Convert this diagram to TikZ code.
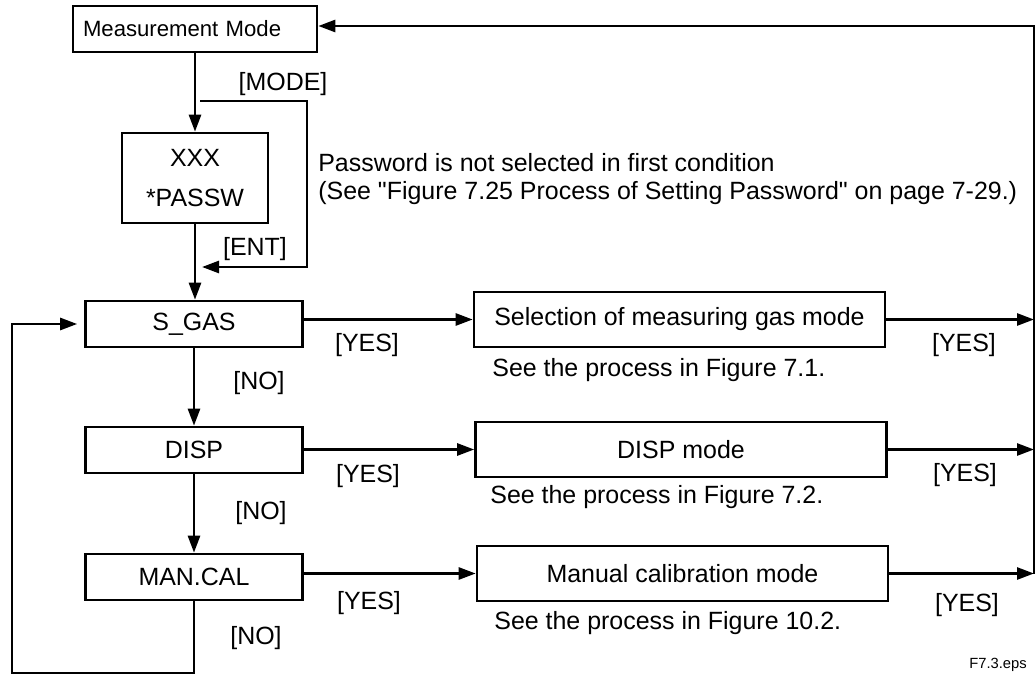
\documentclass[tikz,border=0pt]{standalone}
\usepackage{fontspec}
\setmainfont{Liberation Sans}
\newfontfamily\plainsans{Liberation Sans}
\usepackage{tikz}
\usetikzlibrary{arrows.meta,positioning}

\begin{document}
\begin{tikzpicture}[font=\fontsize{14.2}{15.9}\selectfont,b/.style={draw,line width=1.5pt,minimum width=4.34cm,minimum height=0.92cm,inner sep=0pt},w/.style={draw,line width=1.5pt,minimum width=8.22cm,minimum height=1.10cm,inner sep=0pt},a/.style={-{Triangle[length=0.34cm,width=0.24cm]},line width=1.5pt},lbl/.style={inner sep=0pt}]
\useasboundingbox (0,0) rectangle (20.72,-13.54);
\node[draw,line width=1.5pt,minimum height=0.92cm,text width=4.48cm,inner xsep=0.2cm,align=left,font=\fontsize{12.6}{14}\selectfont] (mm) at (3.90,-0.58) {Measurement Mode};
\node[draw,line width=1.5pt,minimum width=2.92cm,minimum height=1.80cm,align=center] (pw) at (3.90,-3.56) {XXX\\[7pt]*PASSW};
\node[b] (sg) at (3.88,-6.48) {S\_GAS};
\node[b] (dp) at (3.88,-9.00) {DISP};
\node[b] (mc) at (3.88,-11.54) {MAN.CAL};
\node[w] (sel) at (13.59,-6.39) {Selection of measuring gas mode};
\node[w] (dm) at (13.62,-8.99) {DISP mode};
\node[w] (man) at (13.65,-11.47) {Manual calibration mode};
\node[lbl] (lmode) at (5.66,-1.68) {[MODE]};
\node[lbl] (lent) at (5.10,-4.98) {[ENT]};
\node[lbl,anchor=west,align=left,font=\plainsans\fontsize{14.2}{15.9}\selectfont] (note) at (6.36,-3.58) {Password is not selected in first condition\\(See "Figure 7.25 Process of Setting Password" on page 7-29.)};
\node[lbl] (y1) at (7.34,-6.90) {[YES]};
\node[lbl] (y2) at (7.36,-9.52) {[YES]};
\node[lbl] (y3) at (7.38,-12.06) {[YES]};
\node[lbl] (y4) at (19.28,-6.90) {[YES]};
\node[lbl] (y5) at (19.30,-9.50) {[YES]};
\node[lbl] (y6) at (19.34,-12.10) {[YES]};
\node[lbl] (n1) at (5.18,-7.66) {[NO]};
\node[lbl] (n2) at (5.22,-10.26) {[NO]};
\node[lbl] (n3) at (5.12,-12.76) {[NO]};
\node[lbl,anchor=west] (s1) at (9.84,-7.40) {See the process in Figure 7.1.};
\node[lbl,anchor=west] (s2) at (9.80,-9.94) {See the process in Figure 7.2.};
\node[lbl,anchor=west] (s3) at (9.88,-12.46) {See the process in Figure 10.2.};
\node[lbl,font=\fontsize{8.4}{10}\selectfont] (eps) at (19.96,-13.30) {F7.3.eps};
\coordinate (mb) at (4.00,-2.02);
\coordinate (me) at (4.04,-5.34);
\coordinate (rt) at (20.68,-0.52);
\coordinate (lb) at (0.24,-13.46);
\draw[a](mm.south)--(pw.north);
\draw[a](mb)--++(2.14,0)|-(me);
\draw[a](pw.south)--(pw.south|-sg.north);
\draw[a](sg.south)--(sg.south|-dp.north);
\draw[a](dp.south)--(dp.south|-mc.north);
\draw[a](sg.east|-sel.west)--(sel.west);
\draw[a](dp.east|-dm.west)--(dm.west);
\draw[a](mc.east|-man.west)--(man.west);
\draw[a](sel.east)--(sel.east-|rt);
\draw[a](dm.east)--(dm.east-|rt);
\draw[a](man.east)--(man.east-|rt);
\draw[a](rt|-man.east)--(rt)--(rt-|mm.east);
\draw[a,shorten >=0.14cm](mc.south)|-(lb)|-(sg.west);
\end{tikzpicture}
\end{document}
